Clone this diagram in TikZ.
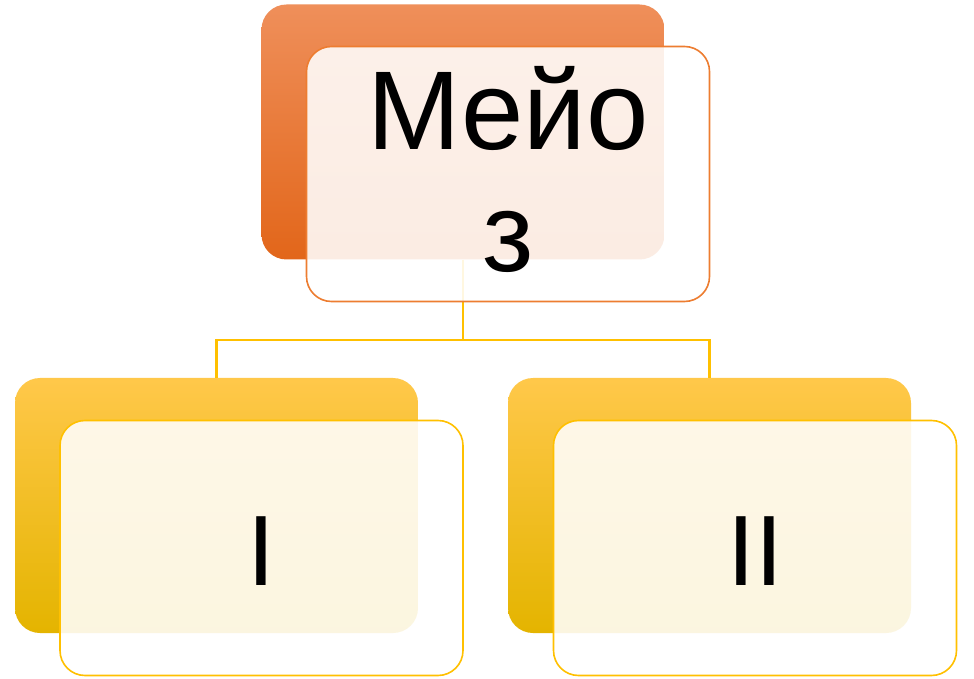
\documentclass[tikz,border=0pt]{standalone}
\usepackage{fontspec}
\setmainfont{Liberation Sans}
\usetikzlibrary{shadings}
\definecolor{orgtop}{HTML}{EF8F5A}
\definecolor{orgmid}{HTML}{F47B22}
\definecolor{orgbot}{HTML}{E2661A}
\definecolor{orgline}{HTML}{ED7D31}
\definecolor{yeltop}{HTML}{FFC84A}
\definecolor{yelmid}{HTML}{FFC800}
\definecolor{yelbot}{HTML}{E4B400}
\definecolor{yelline}{HTML}{FFC000}
\tikzset{
  backbox/.style={rectangle, rounded corners=25pt, minimum width=403pt, minimum height=255pt, inner sep=0pt, draw=none},
  orangeback/.style={backbox, top color=orgtop, middle color=orgmid, bottom color=orgbot},
  yellowback/.style={backbox, top color=yeltop, middle color=yelmid, bottom color=yelbot},
  frontbox/.style={rectangle, rounded corners=25pt, minimum width=403pt, minimum height=255pt, inner sep=0pt, fill=white, fill opacity=0.88, line width=1.6pt},
  conn/.style={draw=yelline, line width=2.2pt},
  bigtext/.style={font=\fontsize{112}{122}\selectfont, inner sep=0pt, text=black},
  midtext/.style={font=\fontsize{100}{110}\selectfont, inner sep=0pt, text=black}
}
\begin{document}
\begin{tikzpicture}[x=1pt,y=1pt]
\fill[white] (0,0) rectangle (974,678);
\useasboundingbox (0,0) rectangle (974,678);
% back boxes
\node[orangeback] (tb) at (463,546) {};
\node[yellowback] (lb) at (216.5,172.5) {};
\node[yellowback] (rb) at (709.5,172.5) {};
% connectors
\coordinate (bus) at (463,338);
\draw[conn] (tb.south) -- (bus);
\draw[conn] (bus) -| (lb.north);
\draw[conn] (bus) -| (rb.north);
% front boxes
\node[frontbox, draw=orgline] (tf) at (508,504) {};
\node[frontbox, draw=yelline] (lf) at (261.5,130) {};
\node[frontbox, draw=yelline] (rf) at (755,130) {};
% texts
\node[bigtext, anchor=base] (t1) at (508,528) {Мейо};
\node[bigtext, anchor=base] (t2) at (508,406) {з};
\node[midtext, anchor=base] (t3) at (261.5,93) {I};
\node[midtext, anchor=base] (t4) at (755,93) {II};
\end{tikzpicture}
\end{document}
